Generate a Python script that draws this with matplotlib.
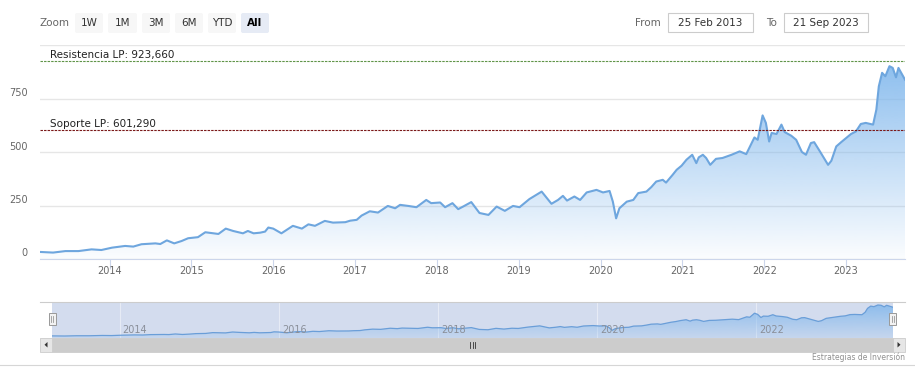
import matplotlib.pyplot as plt
import matplotlib.colors as mcolors
import numpy as np
from matplotlib.patches import FancyBboxPatch, Polygon, Rectangle
from matplotlib.transforms import offset_copy

# price series (decimal years)
dates = [
    2013.15, 2013.31, 2013.46, 2013.62, 2013.78, 2013.90, 2014.03, 2014.19, 2014.29, 2014.39,
    2014.56, 2014.62, 2014.70, 2014.79, 2014.88, 2014.96, 2015.08, 2015.17, 2015.33, 2015.42,
    2015.51, 2015.63, 2015.69, 2015.76, 2015.84, 2015.90, 2015.94, 2016.00, 2016.10, 2016.24,
    2016.35, 2016.43, 2016.51, 2016.63, 2016.73, 2016.88, 2016.94, 2017.02, 2017.08, 2017.18,
    2017.28, 2017.40, 2017.49, 2017.55, 2017.65, 2017.75, 2017.87, 2017.93, 2018.04, 2018.10,
    2018.19, 2018.26, 2018.32, 2018.42, 2018.52, 2018.63, 2018.73, 2018.83, 2018.93, 2019.01,
    2019.13, 2019.28, 2019.40, 2019.48, 2019.54, 2019.59, 2019.68, 2019.75, 2019.83, 2019.95,
    2020.03, 2020.11, 2020.15, 2020.19, 2020.23, 2020.32, 2020.40, 2020.46, 2020.56, 2020.62,
    2020.68, 2020.76, 2020.80, 2020.88, 2020.93, 2020.99, 2021.05, 2021.12, 2021.17, 2021.20,
    2021.25, 2021.29, 2021.34, 2021.41, 2021.49, 2021.60, 2021.70, 2021.78, 2021.88, 2021.92,
    2021.98, 2022.02, 2022.06, 2022.09, 2022.15, 2022.21, 2022.25, 2022.33, 2022.39, 2022.46,
    2022.51, 2022.57, 2022.61, 2022.68, 2022.78, 2022.82, 2022.88, 2022.94, 2023.00, 2023.06,
    2023.12, 2023.18, 2023.24, 2023.33, 2023.37, 2023.40, 2023.44, 2023.48, 2023.53, 2023.57,
    2023.61, 2023.64, 2023.72,
]
prices = [
    33, 30, 37, 37, 45, 42, 53, 61, 58, 69,
    73, 70, 87, 73, 84, 97, 102, 125, 117, 142,
    131, 120, 131, 120, 123, 128, 147, 142, 120, 155,
    142, 162, 155, 178, 170, 172, 179, 183, 203, 223,
    217, 248, 237, 253, 248, 242, 276, 261, 264, 242,
    261, 233, 245, 266, 215, 206, 245, 225, 248, 242,
    280, 315, 258, 276, 295, 273, 292, 276, 311, 323,
    311, 318, 268, 190, 237, 268, 276, 308, 315, 336,
    362, 370, 357, 393, 417, 436, 464, 487, 448, 475,
    487, 472, 440, 468, 472, 487, 503, 490, 568, 557,
    671, 636, 549, 589, 584, 628, 593, 576, 557, 500,
    487, 542, 546, 503, 440, 459, 526, 546, 565, 584,
    596, 631, 636, 628, 698, 807, 870, 854, 901, 893,
    849, 893, 838,
]

resistance = 923.66
support = 601.29
resistance_label = "Resistencia LP: 923,660"
support_label = "Soporte LP: 601,290"
y_ticks = [0, 250, 500, 750, 1000]
x_years = list(range(2014, 2024))
nav_years = [2014, 2016, 2018, 2020, 2022]
zoom_buttons = ["1W", "1M", "3M", "6M", "YTD", "All"]
date_from = "25 Feb 2013"
date_to = "21 Sep 2023"
credits = "Estrategias de Inversión"

W, H = 915, 382
series_color = "#7cb5ec"
line_color = "#6ea6de"


def gradient_fill(ax, x, y, ymin, ymax, a_top, a_bottom, zorder=1):
    """area under the line with a vertical alpha gradient (highcharts style)"""
    poly = ax.fill_between(x, y, ymin, facecolor="none", edgecolor="none")
    grad = np.zeros((256, 1, 4))
    grad[:, :, :3] = mcolors.to_rgb(series_color)
    grad[:, 0, 3] = np.linspace(a_top, a_bottom, 256)
    im = ax.imshow(grad, aspect="auto", origin="upper", zorder=zorder,
                   extent=[x[0], x[-1], ymin, ymax], interpolation="bilinear")
    im.set_clip_path(poly.get_paths()[0], transform=ax.transData)


fig = plt.figure(figsize=(W / 100, H / 100), dpi=100)
fig.patch.set_facecolor("white")

# ### main chart
ax = fig.add_axes([40 / W, 1 - 259 / H, 865 / W, 214 / H])
gradient_fill(ax, dates, prices, 0, 1000, 0.95, 0.03)
ax.plot(dates, prices, color=line_color, lw=1.5, zorder=3, solid_joinstyle="round")
ax.set_xlim(dates[0], dates[-1])
ax.set_ylim(0, 1000)

for s in ["top", "left", "right"]:
    ax.spines[s].set_visible(False)
ax.spines["bottom"].set_color("#ccd6eb")
ax.spines["bottom"].set_zorder(4)
ax.set_yticks(y_ticks)
ax.yaxis.grid(True, color="#e6e6e6", lw=1)
ax.set_axisbelow(True)
ax.tick_params(axis="y", length=0, labelleft=False)
ax.set_xticks(x_years)
ax.tick_params(axis="x", length=7.2, width=0.8, color="#ccd6eb", labelbottom=False)

ylab_tr = offset_copy(ax.get_yaxis_transform(), fig=fig, y=2.5, units="dots")
for v in y_ticks[:-1]:
    ax.text(-0.014, v, f"{v}", transform=ylab_tr, ha="right", va="baseline",
            fontsize=7, color="#666666")
xlab_tr = offset_copy(ax.get_xaxis_transform(), fig=fig, y=-15.5, units="dots")
for yr in x_years:
    ax.text(yr, 0, str(yr), transform=xlab_tr, ha="center", va="baseline",
            fontsize=7, color="#666666")

# plot lines
ax.axhline(resistance, color="#5f9448", lw=0.8, ls=(0, (2.2, 1)), zorder=4)
ax.axhline(support, color="#7a1818", lw=0.8, ls=(0, (2.2, 1)), zorder=4)
pl_tr = offset_copy(ax.transData, fig=fig, y=3, units="dots")
ax.text(dates[0] + 10 / 81.9, resistance, resistance_label, transform=pl_tr,
        fontsize=7.5, color="#222222", va="baseline", zorder=5)
ax.text(dates[0] + 10 / 81.9, support, support_label, transform=pl_tr,
        fontsize=7.5, color="#222222", va="baseline", zorder=5)

# ### navigator
nav = fig.add_axes([52 / W, 1 - 338 / H, 841 / W, 36 / H])
nav.set_facecolor("#d3dcee")
gradient_fill(nav, dates, prices, -26, 985, 0.85, 0.15)
nav.plot(dates, prices, color="#6a9ed8", lw=0.9, zorder=3)
nav.set_xlim(dates[0], dates[-1])
nav.set_ylim(-26, 985)
for yr in nav_years:
    nav.axvline(yr, color="white", lw=0.8, alpha=0.45, zorder=0.5)
    nav.text(yr, 0.22, str(yr), transform=offset_copy(nav.get_xaxis_transform(), fig=fig, x=3, units="dots"),
             fontsize=7, color="#8a8f99", va="center", ha="left", zorder=4)
nav.set_xticks([])
nav.set_yticks([])
for s in nav.spines.values():
    s.set_visible(False)

# ### UI overlay in pixel coords
ui = fig.add_axes([0, 0, 1, 1], zorder=10)
ui.set_xlim(0, W)
ui.set_ylim(H, 0)
ui.axis("off")
ui.patch.set_visible(False)

# range selector buttons
ui.text(40, 23, "Zoom", fontsize=7.5, color="#666666", va="center", ha="left")
btn_x = [75, 108, 142, 175, 208, 241]
btn_w = [28, 29, 28, 28, 28, 28]
for label, bx, bw in zip(zoom_buttons, btn_x, btn_w):
    selected = label == "All"
    ui.add_patch(FancyBboxPatch((bx, 13), bw, 20, boxstyle="round,pad=0,rounding_size=2",
                                fc="#e6ebf5" if selected else "#f7f7f7", ec="none"))
    ui.text(bx + bw / 2, 23, label, fontsize=7.5, ha="center", va="center",
            color="#000000" if selected else "#333333",
            fontweight="bold" if selected else "normal")

# date inputs
ui.text(648, 22.5, "From", fontsize=7.5, color="#666666", ha="center", va="center")
ui.add_patch(Rectangle((668, 13), 85, 19, fc="white", ec="#cccccc", lw=0.8))
ui.text(710.5, 22.5, date_from, fontsize=7.5, color="#333333", ha="center", va="center")
ui.text(771, 22.5, "To", fontsize=7.5, color="#666666", ha="center", va="center")
ui.add_patch(Rectangle((784, 13), 84, 19, fc="white", ec="#cccccc", lw=0.8))
ui.text(826, 22.5, date_to, fontsize=7.5, color="#333333", ha="center", va="center")

# navigator outline + handles
ui.plot([40, 905], [302, 302], color="#cccccc", lw=0.8)
for hx in [52, 892.5]:
    ui.add_patch(Rectangle((hx - 3.5, 312.5), 7, 12.5, fc="#f2f2f2", ec="#999999", lw=0.7))
    ui.plot([hx - 1, hx - 1], [315.5, 322], color="#999999", lw=0.6)
    ui.plot([hx + 1, hx + 1], [315.5, 322], color="#999999", lw=0.6)

# scrollbar
ui.add_patch(Rectangle((40, 338), 865, 13.5, fc="#f2f2f2", ec="none"))
ui.add_patch(Rectangle((52, 338), 841, 13.5, fc="#cccccc", ec="#cccccc", lw=0.6))
ui.add_patch(Rectangle((40, 338), 12, 13.5, fc="#e6e6e6", ec="#cccccc", lw=0.6))
ui.add_patch(Rectangle((893, 338), 12, 13.5, fc="#e6e6e6", ec="#cccccc", lw=0.6))
ui.add_patch(Polygon([[47.5, 342], [47.5, 347.5], [44.5, 344.75]], fc="#333333", ec="none"))
ui.add_patch(Polygon([[897.5, 342], [897.5, 347.5], [900.5, 344.75]], fc="#333333", ec="none"))
for gx in [470, 472.5, 475]:
    ui.plot([gx, gx], [341.5, 348], color="#333333", lw=0.6)

# credits + bottom border
ui.text(905, 357.5, credits, fontsize=5.5, color="#909090", ha="right", va="center")
ui.plot([0, W], [364.5, 364.5], color="#d6d6d6", lw=0.8)

fig.savefig("out.png", dpi=100)
